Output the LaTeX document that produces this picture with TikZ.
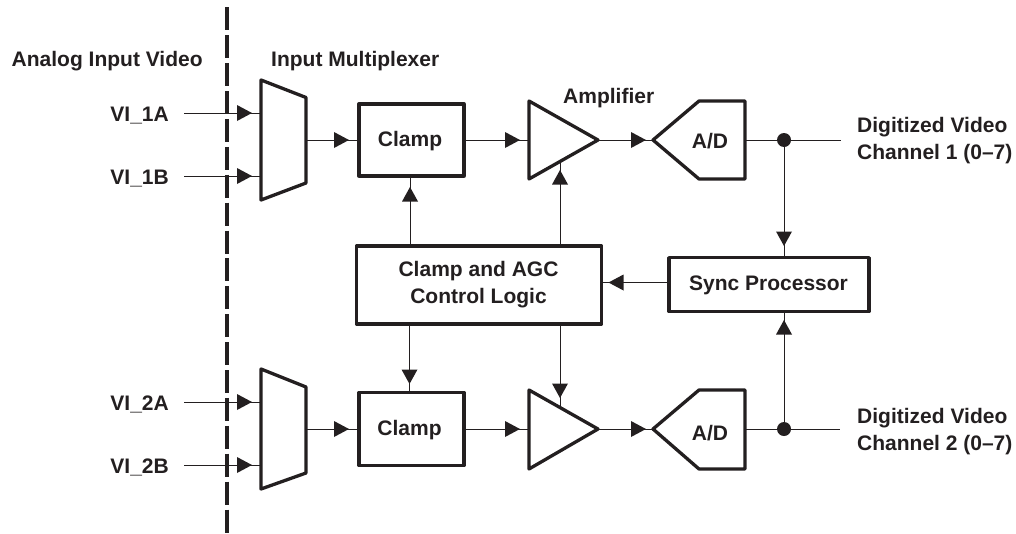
\documentclass[tikz,border=0pt]{standalone}
\usepackage{fontspec}
\setmainfont{Liberation Sans}
\definecolor{ink}{HTML}{231F20}
\tikzset{
  x=1pt,y=-1pt,
  every node/.style={font=\fontsize{21}{27}\selectfont\bfseries,text=ink,inner sep=0pt},
  block/.style={draw=ink,line width=3.3pt,line join=round,fill=white},
  blockbox/.style={block,rectangle,minimum width=#1,align=center},
  wire/.style={draw=ink,line width=1pt},
  lbl/.style={anchor=west,align=left},
  lblr/.style={anchor=east,align=right},
}
\newcommand{\headR}[2]{\fill[ink] (#1-15,#2-8) -- (#1,#2) -- (#1-15,#2+8) -- cycle;}
\newcommand{\headL}[2]{\fill[ink] (#1+15,#2-8) -- (#1,#2) -- (#1+15,#2+8) -- cycle;}
\newcommand{\headD}[2]{\fill[ink] (#1-8,#2-14.5) -- (#1,#2) -- (#1+8,#2-14.5) -- cycle;}
\newcommand{\headU}[2]{\fill[ink] (#1-8,#2+14.5) -- (#1,#2) -- (#1+8,#2+14.5) -- cycle;}
\begin{document}
\begin{tikzpicture}
\useasboundingbox (0,0) rectangle (1016,533);
% coordinates
\coordinate (i1a) at (184,113); \coordinate (i1b) at (184,176);
\coordinate (i2a) at (184,402); \coordinate (i2b) at (184,465);
\coordinate (m1a) at (261,113); \coordinate (m1b) at (261,176);
\coordinate (m2a) at (261,402); \coordinate (m2b) at (261,465);
\coordinate (m1o) at (306,140); \coordinate (m2o) at (306,429);
\coordinate (a1i) at (529,140); \coordinate (a2i) at (529,429);
\coordinate (a1o) at (598,140); \coordinate (a2o) at (598,429);
\coordinate (d1i) at (653,140); \coordinate (d2i) at (653,429);
\coordinate (d1o) at (745,140); \coordinate (d2o) at (745,429);
\coordinate (o1) at (841,140);  \coordinate (o2) at (840,429);
\coordinate (j1) at (784,140);  \coordinate (j2) at (784,429);
\coordinate (a1c) at (560,162); \coordinate (a2c) at (560,407);
\coordinate (c1c) at (410,177); \coordinate (c2c) at (409.5,392);
\coordinate (ctop1) at (410,246); \coordinate (cbot1) at (409.5,324);
\coordinate (ctop2) at (560,246); \coordinate (cbot2) at (560,324);
\coordinate (sl) at (668,282.5); \coordinate (cr) at (602,282.5);
% wires under blocks
\path[wire] (i1a) -- (m1a); \path[wire] (i1b) -- (m1b);
\path[wire] (i2a) -- (m2a); \path[wire] (i2b) -- (m2b);
% dashed separator
\coordinate (dtop) at (227,7.3); \coordinate (dbot) at (227,533);
\draw[ink,line width=3.4pt,dash pattern=on 23pt off 4.9pt] (dtop) -- (dbot);
% blocks
\node[blockbox=105pt,minimum height=72pt] (c1) at (411.5,140) {};
\node[blockbox=105pt,minimum height=73pt] (c2) at (411.5,429) {};
\node (c1t) at (410,141) {Clamp};
\node (c2t) at (409.5,430) {Clamp};
\node[blockbox=245pt,minimum height=78pt] (ctl) at (479,285) {};
\node[align=center] (ctlt) at (478.5,284.5) {Clamp and AGC\\Control Logic};
\node[blockbox=200pt,minimum height=54pt] (sync) at (769,284.7) {};
\node (synct) at (768.5,285) {Sync Processor};
\draw[block] (261,80) -- (306,97.5) -- (306,183) -- (261,200) -- cycle;
\draw[block] (261,369) -- (306,387) -- (306,473) -- (261,489) -- cycle;
\draw[block] (529,101) -- (598,140) -- (529,179) -- cycle;
\draw[block] (529,390) -- (598,429) -- (529,469) -- cycle;
\draw[block] (653,140) -- (699,101) -- (745,101) -- (745,179) -- (699,179) -- cycle;
\draw[block] (653,429) -- (699,390) -- (745,390) -- (745,469) -- (699,469) -- cycle;
\node (ad1) at (710,141) {A/D};
\node (ad2) at (710,433) {A/D};
% connectors
\path[wire] (m1o) -- (c1.west); \path[wire] (m2o) -- (c2.west);
\path[wire] (c1.east) -- (a1i); \path[wire] (c2.east) -- (a2i);
\path[wire] (a1o) -- (d1i); \path[wire] (a2o) -- (d2i);
\path[wire] (d1o) -- (o1); \path[wire] (d2o) -- (o2);
\path[wire] (j1) -- (sync.north -| j1); \path[wire] (j2) -- (sync.south -| j2);
\path[wire] (sl) -- (cr);
\path[wire] (ctop1) -- (c1c); \path[wire] (cbot1) -- (c2c);
\path[wire] (ctop2) -- (a1c); \path[wire] (cbot2) -- (a2c);
\fill[ink] (j1) circle (7); \fill[ink] (j2) circle (7);
% arrowheads
\headR{252}{113}\headR{252}{176}\headR{252}{402}\headR{252}{465}
\headR{349}{140}\headR{349}{429}
\headR{520}{140}\headR{520}{429}
\headR{646}{140}\headR{646}{429}
\headU{410}{187}\headD{409.5}{384}
\headU{560}{170}\headD{560}{398}
\headD{784}{246}\headU{784}{320}
\headL{608.5}{282.5}
% labels
\node[lbl] (t1) at (11.5,61) {Analog Input Video};
\node[lbl] (t2) at (271,61) {Input Multiplexer};
\node[lbl] (t3) at (563,98) {Amplifier};
\node[lblr] (v1) at (169,115.5) {VI\_1A};
\node[lblr] (v2) at (169,178.5) {VI\_1B};
\node[lblr] (v3) at (169,404.5) {VI\_2A};
\node[lblr] (v4) at (169,467.5) {VI\_2B};
\node[lbl] (o1t) at (857,141) {Digitized Video\\Channel 1 (0–7)};
\node[lbl] (o2t) at (857,432) {Digitized Video\\Channel 2 (0–7)};
\end{tikzpicture}
\end{document}
